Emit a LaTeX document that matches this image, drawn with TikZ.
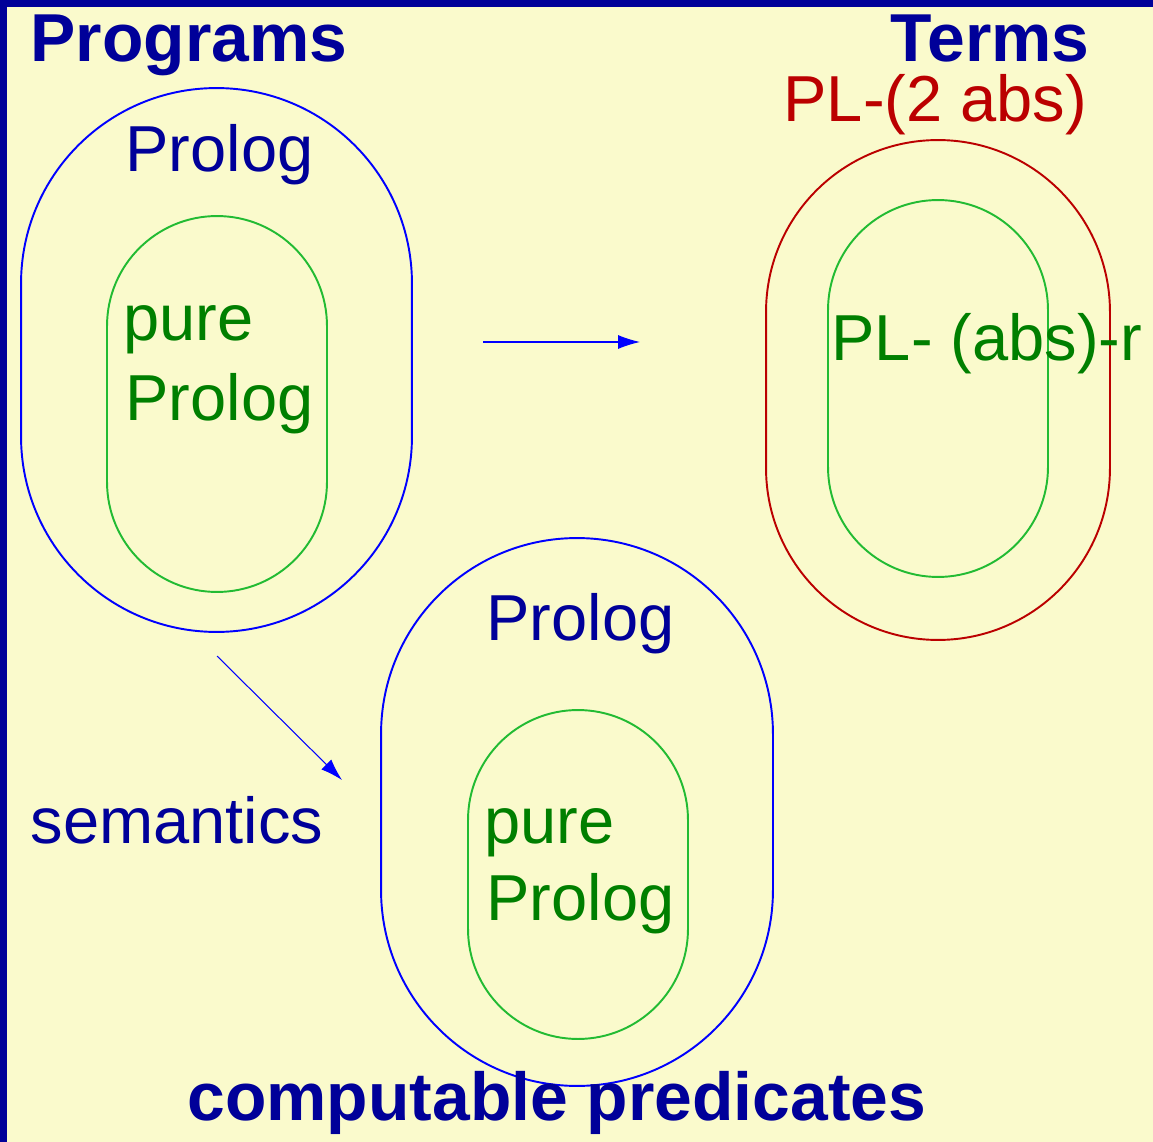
\documentclass[tikz,border=0pt]{standalone}
\usepackage{fontspec}
\setmainfont{Liberation Sans}
\usepackage{tikz}
\usetikzlibrary{arrows.meta}
\usetikzlibrary{positioning}
\definecolor{paper}{HTML}{FAFACC}
\definecolor{navy}{HTML}{000099}
\definecolor{linegreen}{HTML}{22BB33}
\definecolor{textgreen}{HTML}{007F00}
\definecolor{darkred}{HTML}{BB0000}
\tikzstyle{blob} = [draw,rectangle,line width=1.1pt,inner sep=0pt]
\tikzstyle{lbl}  = [anchor=base west,inner sep=0pt,font=\fontsize{37}{39}\selectfont]
\tikzstyle{head} = [lbl,font=\fontsize{38.6}{40}\selectfont\bfseries,text=navy]

\begin{document}
\begin{tikzpicture}[x=0.02cm,y=-0.02cm,-{Latex[length=12.5pt,width=8pt]},semithick]

\useasboundingbox (0,0) rectangle (1153,1142);
\fill[paper] (0,0) rectangle (1153,1142);
\draw[-,navy,line width=4pt] (0,3.5) -- (1153,3.5);
\draw[-,navy,line width=4pt] (3.5,0) -- (3.5,1142);

% program side
\node[blob, draw=blue, minimum width=7.82cm, minimum height=10.88cm, rounded corners=3.91cm] (P1) at (216.5,360) {};
\node[blob, draw=linegreen, minimum width=4.4cm, minimum height=7.52cm, rounded corners=2.2cm] (P2) at (217,404) {};

% predicate side
\node[blob, draw=blue, minimum width=7.84cm, minimum height=10.96cm, rounded corners=3.92cm] (Q1) at (577,812) {};
\node[blob, draw=linegreen, minimum width=4.4cm, minimum height=6.58cm, rounded corners=2.2cm] (Q2) at (578,874.5) {};

% term side
\node[blob, draw=darkred, minimum width=6.88cm, minimum height=10cm, rounded corners=3.44cm] (T1) at (938,390) {};
\node[blob, draw=linegreen, minimum width=4.4cm, minimum height=7.54cm, rounded corners=2.2cm] (T2) at (938,388.5) {};

\node[head] (H1) at (30,62) {Programs};
\node[head, anchor=base east] (H2) at (1090,62) {Terms};
\node[head] (H3) at (187,1120) {computable predicates};

\node[lbl, text=darkred] (L1) at (783,122) {PL-(2 abs)};
\node[lbl, text=navy] (L2) at (125,172) {Prolog};
\node[lbl, text=textgreen] (L3) at (123,340) {pure};
\node[lbl, text=textgreen] (L4) at (125,420) {Prolog};
\node[lbl, text=textgreen] (L5) at (831,360) {PL- (abs)-r};
\node[lbl, text=navy] (L6) at (486,640) {Prolog};
\node[lbl, text=navy] (L7) at (30,843) {semantics};
\node[lbl, text=textgreen] (L8) at (484,843) {pure};
\node[lbl, text=textgreen] (L9) at (486,920) {Prolog};

\coordinate (A1) at (483,342);
\coordinate (A2) at (640,342);
\coordinate (B1) at (217,656);
\coordinate (B2) at (342,780);

\path[blue]
	(A1) edge (A2)
	(B1) edge (B2);

\end{tikzpicture}
\end{document}
